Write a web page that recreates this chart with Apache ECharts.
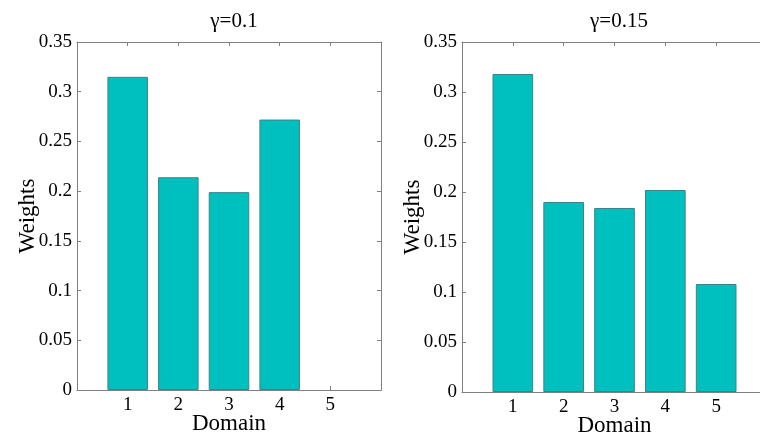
<!DOCTYPE html>
<html>
<head>
<meta charset="utf-8">
<script src="https://cdn.jsdelivr.net/npm/echarts@6/dist/echarts.min.js"></script>
<style>
  html, body { margin: 0; padding: 0; background: #fff; }
  #chart { width: 760px; height: 442px; }
</style>
</head>
<body>
<div id="chart"></div>
<script>
    // data
    var domains = [1, 2, 3, 4, 5];
    var weightsA = [0.315, 0.214, 0.199, 0.272, 0];     // gamma = 0.1
    var weightsB = [0.318, 0.190, 0.184, 0.202, 0.108]; // gamma = 0.15
    var titles = ['γ=0.1', 'γ=0.15'];
    var yTicks = [0, 0.05, 0.1, 0.15, 0.2, 0.25, 0.3, 0.35];

    var font = 'Liberation Serif';
    var axisGray = '#808080';
    var barColor = '#00bfbf';
    var barEdge = '#3b8585';

    // right panel runs past the edge of the picture, as in the original
    var grids = [
        { left: 77, top: 42, width: 304, height: 348, outerBoundsMode: 'none' },
        { left: 462, top: 42, width: 305, height: 350, outerBoundsMode: 'none' }
    ];
    var centers = [229, 614];
    var seriesData = [weightsA, weightsB];

    var chart = echarts.init(document.getElementById('chart'));

    var option = {
        animation: false,
        backgroundColor: '#fff',
        title: [],
        grid: grids,
        xAxis: [],
        yAxis: [],
        series: []
    };

    grids.forEach(function (g, i) {
        option.title.push({
            text: titles[i],
            left: centers[i],
            top: 6,
            textAlign: 'center',
            textStyle: { fontFamily: font, fontSize: 21, fontWeight: 'normal', color: '#000' }
        });
        // bottom x axis
        option.xAxis.push({
            type: 'value', gridIndex: i, min: 0, max: 6, interval: 1,
            name: 'Domain', nameLocation: 'middle', nameGap: 22, nameMoveOverlap: false,
            nameTextStyle: { fontFamily: font, fontSize: 23, color: '#000' },
            axisLine: { show: true, lineStyle: { color: axisGray, width: 1 } },
            axisTick: { show: true, inside: true, length: 4, lineStyle: { color: axisGray } },
            axisLabel: {
                fontFamily: font, fontSize: 19, color: '#000', margin: 6,
                formatter: function (v) { return domains.indexOf(v) >= 0 ? String(v) : ''; }
            },
            splitLine: { show: false }
        });
        // top x axis (box)
        option.xAxis.push({
            type: 'value', gridIndex: i, position: 'top', min: 0, max: 6, interval: 1,
            axisLine: { show: true, onZero: false, lineStyle: { color: axisGray, width: 1 } },
            axisTick: { show: true, inside: true, length: 4, lineStyle: { color: axisGray } },
            axisLabel: { show: false },
            splitLine: { show: false }
        });
        // left y axis
        option.yAxis.push({
            type: 'value', gridIndex: i, min: 0, max: 0.35, interval: 0.05,
            name: 'Weights', nameLocation: 'middle', nameGap: 38, nameRotate: 90, nameMoveOverlap: false,
            nameTextStyle: { fontFamily: font, fontSize: 23, color: '#000' },
            axisLine: { show: true, lineStyle: { color: axisGray, width: 1 } },
            axisTick: { show: true, inside: true, length: 4, lineStyle: { color: axisGray } },
            axisLabel: {
                fontFamily: font, fontSize: 19, color: '#000', margin: 5,
                formatter: function (v) {
                    var k = yTicks.indexOf(Math.round(v * 100) / 100);
                    return k >= 0 ? String(yTicks[k]) : '';
                }
            },
            splitLine: { show: false }
        });
        // right y axis (box)
        option.yAxis.push({
            type: 'value', gridIndex: i, position: 'right', min: 0, max: 0.35, interval: 0.05,
            axisLine: { show: true, onZero: false, lineStyle: { color: axisGray, width: 1 } },
            axisTick: { show: true, inside: true, length: 4, lineStyle: { color: axisGray } },
            axisLabel: { show: false },
            splitLine: { show: false }
        });

        option.series.push({
            type: 'bar',
            xAxisIndex: i * 2,
            yAxisIndex: i * 2,
            barWidth: g.width / 6 * 0.8,
            itemStyle: { color: barColor, borderColor: barEdge, borderWidth: 1 },
            data: domains.map(function (d, k) {
                var v = seriesData[i][k];
                // an empty weight leaves no mark at all
                return v > 0 ? [d, v] : { value: [d, v], itemStyle: { borderWidth: 0 } };
            })
        });
    });

    chart.setOption(option);
</script>
</body>
</html>
